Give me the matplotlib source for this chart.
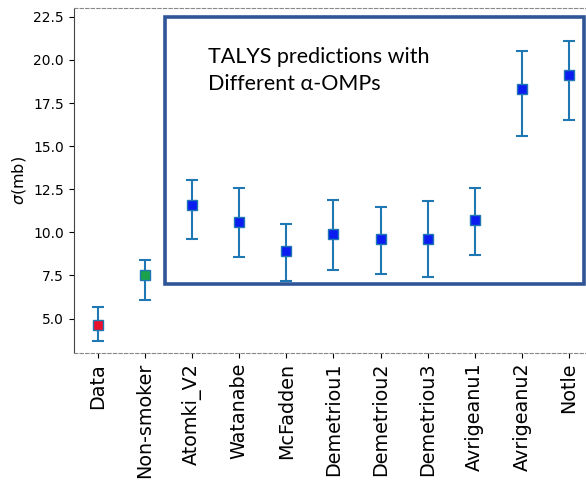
import numpy as np
import matplotlib
matplotlib.use("Agg")
import matplotlib.pyplot as plt
from matplotlib.patches import Rectangle

labels = ['Data', 'Non-smoker', 'Atomki_V2', 'Watanabe', 'McFadden', 'Demetriou1',
          'Demetriou2', 'Demetriou3', 'Avrigeanu1', 'Avrigeanu2', 'Notle']
sigma = [4.6, 7.5, 11.6, 10.6, 8.9, 9.9, 9.6, 9.6, 10.7, 18.3, 19.1]
err_low = [0.9, 1.45, 2.0, 2.0, 1.7, 2.1, 2.0, 2.2, 2.0, 2.7, 2.6]
err_high = [1.05, 0.9, 1.45, 2.0, 1.6, 2.0, 1.9, 2.2, 1.9, 2.2, 2.0]
face = ['#e8102a', '#1aa34a'] + ['#0a1cf0'] * 9

fig = plt.figure(figsize=(5.86, 4.83), dpi=100)
ax = fig.add_axes([0.126, 0.269, 0.874, 0.714])

x = np.arange(len(labels))
ax.errorbar(x, sigma, yerr=[err_low, err_high], fmt='none', ecolor='#1f77b4',
            elinewidth=1.5, capsize=4, capthick=1.5, zorder=2)
for xi, yi, c in zip(x, sigma, face):
    ax.plot(xi, yi, 's', ms=7, mfc=c, mec='#1f77b4', mew=1, zorder=3)

ax.set_xlim(-0.51, 10.36)
ax.set_ylim(3.0, 23.0)
ax.set_yticks([5.0, 7.5, 10.0, 12.5, 15.0, 17.5, 20.0, 22.5])
ax.set_xticks(x)
ax.set_xticklabels(labels, rotation=90, fontsize=13.8)
ax.tick_params(axis='y', labelsize=10)
ax.set_ylabel(r'$\sigma$(mb)', fontsize=11.5)

ax.spines['right'].set_visible(False)
for s in ['top', 'bottom']:
    ax.spines[s].set_linestyle((0, (3, 2)))
    ax.spines[s].set_color('#888888')
    ax.spines[s].set_linewidth(0.8)
ax.spines['left'].set_color('#444444')

box = Rectangle((1.43, 7.0), 8.88, 15.5, fill=False, edgecolor='#2f5597',
                linewidth=2.6, zorder=1, clip_on=False)
ax.add_patch(box)
ax.text(2.33, 20.75, 'TALYS predictions with\nDifferent \u03b1-OMPs', fontsize=15.5,
        family=['Lato', 'DejaVu Sans'], va='top', ha='left', linespacing=1.45)

fig.savefig('out.png', dpi=100)
